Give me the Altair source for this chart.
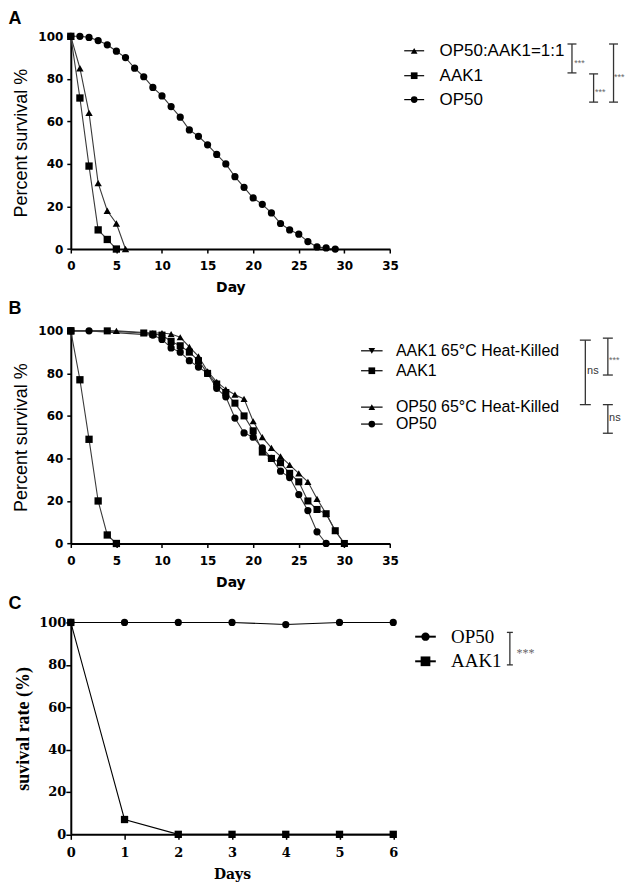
import altair as alt
import pandas as pd

# ---------------- data ----------------
# Panel A
A_SERIES = ["OP50:AAK1=1:1", "AAK1", "OP50"]
A_SHAPES = ["triangle-up", "square", "circle"]
a_mix_day = [0, 1, 2, 3, 4, 5, 6]
a_mix_pct = [100, 85, 64, 31, 18, 12, 0]
a_aak1_day = [0, 1, 2, 3, 4, 5]
a_aak1_pct = [100, 71, 39, 9, 4.5, 0]
a_op50_day = list(range(0, 30))
a_op50_pct = [100, 100, 99.5, 98, 96, 93, 90, 85, 81, 76, 72, 67, 62, 56, 53, 49,
              44.5, 40, 34, 29, 24, 21, 17, 12, 9, 7, 3.5, 1, 0.5, 0]

# Panel B
B_SERIES = ["AAK1 65°C Heat-Killed", "AAK1", "OP50 65°C Heat-Killed", "OP50"]
B_SHAPES = ["triangle-down", "square", "triangle-up", "circle"]
b_aak1hk_day = [0, 5, 9, 10, 11, 12, 13, 14, 15, 16, 17, 18, 19, 20, 21, 22, 23, 24,
                25, 26, 27, 28, 29, 30]
b_aak1hk_pct = [100, 100, 99, 99, 98.5, 97, 92.5, 88, 81, 76, 72.5, 70, 68, 57.5, 50,
                45, 41, 37, 33, 29, 21, 14, 6, 0]
b_aak1_day = [0, 1, 2, 3, 4, 5]
b_aak1_pct = [100, 77, 49, 20, 4, 0]
b_op50hk_day = [0, 4, 8, 9, 10, 11, 12, 13, 14, 15, 16, 17, 18, 19, 20, 21, 22, 23,
                24, 25, 26, 27, 28, 29, 30]
b_op50hk_pct = [100, 100, 99, 98.5, 98, 95, 93, 90, 86, 80, 75, 71, 66, 60, 53, 43,
                40, 38, 33, 29, 20, 16, 14, 6, 0]
b_op50_day = [0, 2, 9, 10, 11, 12, 13, 14, 15, 16, 17, 18, 19, 20, 21, 22, 23, 24,
              25, 26, 27, 28]
b_op50_pct = [100, 100, 98, 96, 92, 90, 86, 83, 80, 73, 69, 59, 52, 50, 45, 40, 34,
              31, 23, 15.5, 5.5, 0]

# Panel C
C_SERIES = ["OP50", "AAK1"]
C_SHAPES = ["circle", "square"]
c_day = [0, 1, 2, 3, 4, 5, 6]
c_op50_pct = [100, 100, 100, 100, 99, 100, 100]
c_aak1_pct = [100, 7, 0, 0, 0, 0, 0]

X_TICKS_AB = [0, 5, 10, 15, 20, 25, 30, 35]
X_TICKS_C = [0, 1, 2, 3, 4, 5, 6]
Y_TICKS = [0, 20, 40, 60, 80, 100]


def long_df(items):
    rows = []
    for name, days, vals in items:
        for d, v in zip(days, vals):
            rows.append({"series": name, "day": d, "pct": v})
    return pd.DataFrame(rows)


df_a = long_df([(A_SERIES[0], a_mix_day, a_mix_pct),
                (A_SERIES[1], a_aak1_day, a_aak1_pct),
                (A_SERIES[2], a_op50_day, a_op50_pct)])
df_b = long_df([(B_SERIES[0], b_aak1hk_day, b_aak1hk_pct),
                (B_SERIES[1], b_aak1_day, b_aak1_pct),
                (B_SERIES[2], b_op50hk_day, b_op50hk_pct),
                (B_SERIES[3], b_op50_day, b_op50_pct)])
df_c = long_df([(C_SERIES[0], c_day, c_op50_pct),
                (C_SERIES[1], c_day, c_aak1_pct)])

ONE = pd.DataFrame({"k": [0]})


def data_layers(df, series, shapes, sizes, line_color, line_widths, xdom, xaxis, yaxis):
    base = alt.Chart(df).encode(
        x=alt.X("day:Q", scale=alt.Scale(domain=xdom, nice=False, zero=False), axis=xaxis),
        y=alt.Y("pct:Q", scale=alt.Scale(domain=[0, 100], nice=False), axis=yaxis),
        detail="series:N",
    )
    lines = base.mark_line(color=line_color).encode(
        strokeWidth=alt.StrokeWidth("series:N", scale=alt.Scale(domain=series, range=line_widths), legend=None),
        order="day:Q",
    )
    pts = base.mark_point(filled=True, opacity=1, color="black").encode(
        shape=alt.Shape("series:N", scale=alt.Scale(domain=series, range=shapes), legend=None),
        size=alt.Size("series:N", scale=alt.Scale(domain=series, range=sizes), legend=None),
    )
    return [lines, pts]


def text_at(x, y, label, font, size, weight="normal", color="black", align="left",
            baseline="middle"):
    return alt.Chart(ONE).mark_text(align=align, baseline=baseline, font=font,
                                    fontSize=size, fontWeight=weight, color=color).encode(
        x=alt.value(x), y=alt.value(y), text=alt.value(label))


def legend_entry(x0, x1, y, shape, size, label, tx, font, fsize, lw=1.2):
    rule = alt.Chart(ONE).mark_rule(color="black", strokeWidth=lw).encode(
        x=alt.value(x0), x2=alt.value(x1), y=alt.value(y))
    pt = alt.Chart(ONE).mark_point(filled=True, opacity=1, color="black", shape=shape,
                                   size=size).encode(x=alt.value((x0 + x1) / 2), y=alt.value(y))
    return [rule, pt, text_at(tx, y, label, font, fsize)]


def bracket(x, y1, y2, cap, label, tx, ty, font, fsize, color="#666666"):
    v = alt.Chart(ONE).mark_rule(color="#333333", strokeWidth=1.3).encode(
        x=alt.value(x), y=alt.value(y1), y2=alt.value(y2))
    c1 = alt.Chart(ONE).mark_rule(color="#333333", strokeWidth=1.3).encode(
        x=alt.value(x - cap), x2=alt.value(x + cap), y=alt.value(y1))
    c2 = alt.Chart(ONE).mark_rule(color="#333333", strokeWidth=1.3).encode(
        x=alt.value(x - cap), x2=alt.value(x + cap), y=alt.value(y2))
    return [v, c1, c2, text_at(tx, ty, label, font, fsize, color=color)]


SANS = "Liberation Sans"
SANSB = "DejaVu Sans"
SERIF = "Liberation Serif"
SERIFB = "DejaVu Serif"


def ab_axes(ytitle):
    xa = alt.Axis(values=X_TICKS_AB, title="Day", grid=False, labelFont=SANSB,
                  labelFontWeight="bold", labelFontSize=12, labelColor="black",
                  labelPadding=8, labelFlush=False, labelOverlap=False,
                  tickColor="black", tickSize=4, tickWidth=1.5,
                  domainColor="black", domainWidth=2,
                  titleFont=SANSB, titleFontWeight="bold", titleFontSize=14,
                  titleColor="black", titlePadding=9)
    ya = alt.Axis(values=Y_TICKS, title=ytitle, grid=False, labelFont=SANSB,
                  labelFontWeight="bold", labelFontSize=12, labelColor="black",
                  labelPadding=4, labelFlush=False, labelOverlap=False,
                  tickColor="black", tickSize=4, tickWidth=1.5,
                  domainColor="black", domainWidth=2,
                  titleFont=SANS, titleFontWeight="normal", titleFontSize=18,
                  titleColor="black", titlePadding=7)
    return xa, ya


# ---------------- Panel A ----------------
xa, ya = ab_axes("Percent survival %")
layers_a = data_layers(df_a, A_SERIES, A_SHAPES, [55, 50, 48], "#3a3a3a", [1.1, 1.1, 1.1],
                       [0, 35], xa, ya)
legend_y_a = [14.5, 39.5, 63.5]
for s, sh, yy in zip(A_SERIES, A_SHAPES, legend_y_a):
    layers_a += legend_entry(334.5, 354.5, yy, sh, 45, s, 370, SANS, 17)
layers_a += bracket(502.8, 7.7, 36.7, 4.5, "***", 505, 27, SANS, 9)
layers_a += bracket(524.5, 37.7, 66, 4.5, "***", 526, 56, SANS, 9)
layers_a += bracket(544.5, 7.7, 66, 4.5, "***", 545, 41, SANS, 9)
layers_a.append(text_at(-62.5, -26.3, "A", SANS, 18, weight="bold", baseline="top"))
panel_a = alt.layer(*layers_a).properties(width=320.2, height=213.4)

# ---------------- Panel B ----------------
xb, yb = ab_axes("Percent survival %")
layers_b = data_layers(df_b, B_SERIES, B_SHAPES, [55, 50, 55, 48], "#3a3a3a",
                       [1.1, 1.1, 1.1, 1.1], [0, 35], xb, yb)
legend_y_b = [20, 40, 76.5, 93.5]
for s, sh, yy in zip(B_SERIES, B_SHAPES, legend_y_b):
    layers_b += legend_entry(291.2, 312.8, yy, sh, 45, s, 326.2, SANS, 16)
layers_b += bracket(516.2, 9.3, 74, 5.5, "ns", 518, 40, SANS, 11, color="#333333")
layers_b += bracket(538.8, 7.3, 44.3, 5, "***", 540, 29, SANS, 9)
layers_b += bracket(538.8, 74, 102.7, 5, "ns", 540, 87.3, SANS, 11, color="#333333")
layers_b.append(text_at(-62.5, -30.5, "B", SANS, 18, weight="bold", baseline="top"))
panel_b = alt.layer(*layers_b).properties(width=320.2, height=213.3)

# ---------------- Panel C ----------------
xc = alt.Axis(values=X_TICKS_C, title="Days", grid=False, labelFont=SERIFB,
              labelFontWeight="bold", labelFontSize=13, labelColor="black",
              labelPadding=7, labelFlush=False, labelOverlap=False,
              tickColor="black", tickSize=5, tickWidth=1.5,
              domainColor="black", domainWidth=2,
              titleFont=SERIFB, titleFontWeight="bold", titleFontSize=14,
              titleColor="black", titlePadding=8)
yc = alt.Axis(values=Y_TICKS, title="suvival rate (%)", grid=False, labelFont=SERIFB,
              labelFontWeight="bold", labelFontSize=13, labelColor="black",
              labelPadding=0, labelFlush=False, labelOverlap=False,
              tickColor="black", tickSize=5, tickWidth=1.5,
              domainColor="black", domainWidth=2,
              titleFont=SERIF, titleFontWeight="bold", titleFontSize=18,
              titleColor="black", titlePadding=6)
layers_c = data_layers(df_c, C_SERIES, C_SHAPES, [85, 115], "black", [1.3, 2.2],
                       [0, 6], xc, yc)
legend_y_c = [14.3, 39]
for s, sh, yy, sz in zip(C_SERIES, C_SHAPES, legend_y_c, [70, 95]):
    layers_c += legend_entry(345.5, 366.2, yy, sh, sz, s, 381.5, SERIF, 19, lw=2)
layers_c += bracket(440.5, 10, 42.6, 3, "***", 447.2, 31, SERIF, 12)
layers_c.append(text_at(-62.5, -27.2, "C", SANS, 18, weight="bold", baseline="top"))
panel_c = alt.layer(*layers_c).properties(width=323.5, height=212.6)

chart = alt.vconcat(panel_a, panel_b, panel_c, spacing=4.5).properties(
    padding=0
).configure_view(stroke=None)

chart.save("out.html", embed_options={"renderer": "svg", "actions": False})
